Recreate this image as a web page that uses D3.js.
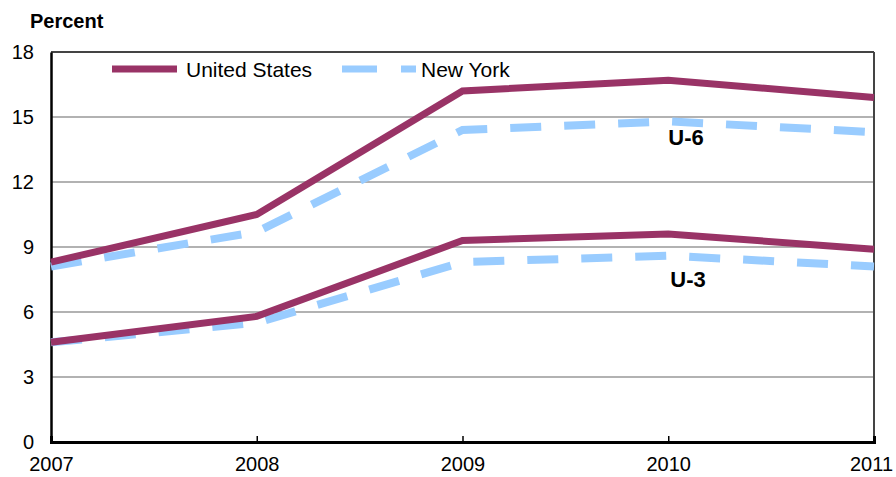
<!DOCTYPE html>
<html>
<head>
<meta charset="utf-8">
<script src="https://cdn.jsdelivr.net/npm/d3@7"></script>
<style>
  body { margin: 0; background: #fff; }
  text { font-family: "Liberation Sans", Arial, sans-serif; fill: #000; }
</style>
</head>
<body>
<svg id="chart" width="896" height="477"></svg>
<script>
// data
const years = [2007, 2008, 2009, 2010, 2011];
const usU6 = [8.3, 10.5, 16.2, 16.7, 15.9];
const nyU6 = [8.1, 9.7, 14.4, 14.8, 14.3];
const usU3 = [4.6, 5.8, 9.3, 9.6, 8.9];
const nyU3 = [4.6, 5.5, 8.3, 8.6, 8.1];
const yTicks = [0, 3, 6, 9, 12, 15, 18];

const purple = "#993366";
const blue = "#99ccff";

let margin = { top: 52, right: 22, bottom: 35, left: 51 };
let width = 896, height = 477;
let svg = d3.select("#chart");

let x = d3.scaleLinear()
    .domain([2007, 2011])
    .range([margin.left, width - margin.right]);

let y = d3.scaleLinear()
    .domain([0, 18])
    .range([height - margin.bottom, margin.top]);

// gridlines
svg.append("g")
  .selectAll("line")
  .data(yTicks.filter(d => d > 0 && d < 18))
  .join("line")
  .attr("x1", margin.left)
  .attr("x2", width - margin.right)
  .attr("y1", d => y(d))
  .attr("y2", d => y(d))
  .style("stroke", "#999")
  .style("stroke-width", "1.5px");

// frame top / right
svg.append("line")
  .attr("x1", margin.left).attr("x2", width - margin.right)
  .attr("y1", y(18)).attr("y2", y(18))
  .style("stroke", "#444").style("stroke-width", "2px");
svg.append("line")
  .attr("x1", width - margin.right).attr("x2", width - margin.right)
  .attr("y1", y(18)).attr("y2", y(0))
  .style("stroke", "#444").style("stroke-width", "2px");

// y axis
let yAxis = svg.append("g")
  .attr("transform", `translate(${margin.left},0)`)
  .call(d3.axisLeft(y).tickValues(yTicks).tickSize(0).tickPadding(17));
yAxis.select(".domain").style("stroke", "#000").style("stroke-width", "2.5px");
yAxis.selectAll("text")
  .style("font-size", "20px")
  .style("font-family", "Liberation Sans, Arial, sans-serif");

// x axis
let xAxis = svg.append("g")
  .attr("transform", `translate(0,${y(0)})`)
  .call(d3.axisBottom(x).tickValues(years).tickFormat(d3.format("d")).tickSize(-6).tickPadding(15));
xAxis.select(".domain").style("stroke", "#000").style("stroke-width", "3px");
xAxis.selectAll(".tick line").style("stroke", "#000").style("stroke-width", "1.5px");
xAxis.selectAll("text")
  .style("font-size", "20px")
  .style("font-family", "Liberation Sans, Arial, sans-serif")
  .attr("dx", d => d === 2011 ? -3 : 0);

let line = d3.line()
  .x((d, i) => x(years[i]))
  .y(d => y(d));

let series = [
  { values: nyU6, color: blue, dashed: true },
  { values: nyU3, color: blue, dashed: true },
  { values: usU6, color: purple, dashed: false },
  { values: usU3, color: purple, dashed: false }
];

svg.append("g")
  .selectAll("path")
  .data(series)
  .join("path")
  .attr("d", d => line(d.values))
  .style("fill", "none")
  .style("stroke", d => d.color)
  .style("stroke-width", d => d.dashed ? "8px" : "7px")
  .style("stroke-dasharray", d => d.dashed ? "31,23" : null);

// series labels
svg.append("text")
  .attr("x", 686).attr("y", 145)
  .attr("text-anchor", "middle")
  .style("font-size", "22px").style("font-weight", "bold")
  .text("U-6");
svg.append("text")
  .attr("x", 688).attr("y", 287)
  .attr("text-anchor", "middle")
  .style("font-size", "22px").style("font-weight", "bold")
  .text("U-3");

// title
svg.append("text")
  .attr("x", 30).attr("y", 28)
  .style("font-size", "20px").style("font-weight", "bold")
  .text("Percent");

// legend
svg.append("line")
  .attr("x1", 112).attr("x2", 177).attr("y1", 69).attr("y2", 69)
  .style("stroke", purple).style("stroke-width", "7px");
svg.append("text")
  .attr("x", 186).attr("y", 77)
  .style("font-size", "21px")
  .text("United States");
svg.append("line")
  .attr("x1", 342).attr("x2", 416).attr("y1", 69).attr("y2", 69)
  .style("stroke", blue).style("stroke-width", "7px")
  .style("stroke-dasharray", "35,24");
svg.append("text")
  .attr("x", 421).attr("y", 77)
  .style("font-size", "21px")
  .text("New York");
</script>
</body>
</html>
